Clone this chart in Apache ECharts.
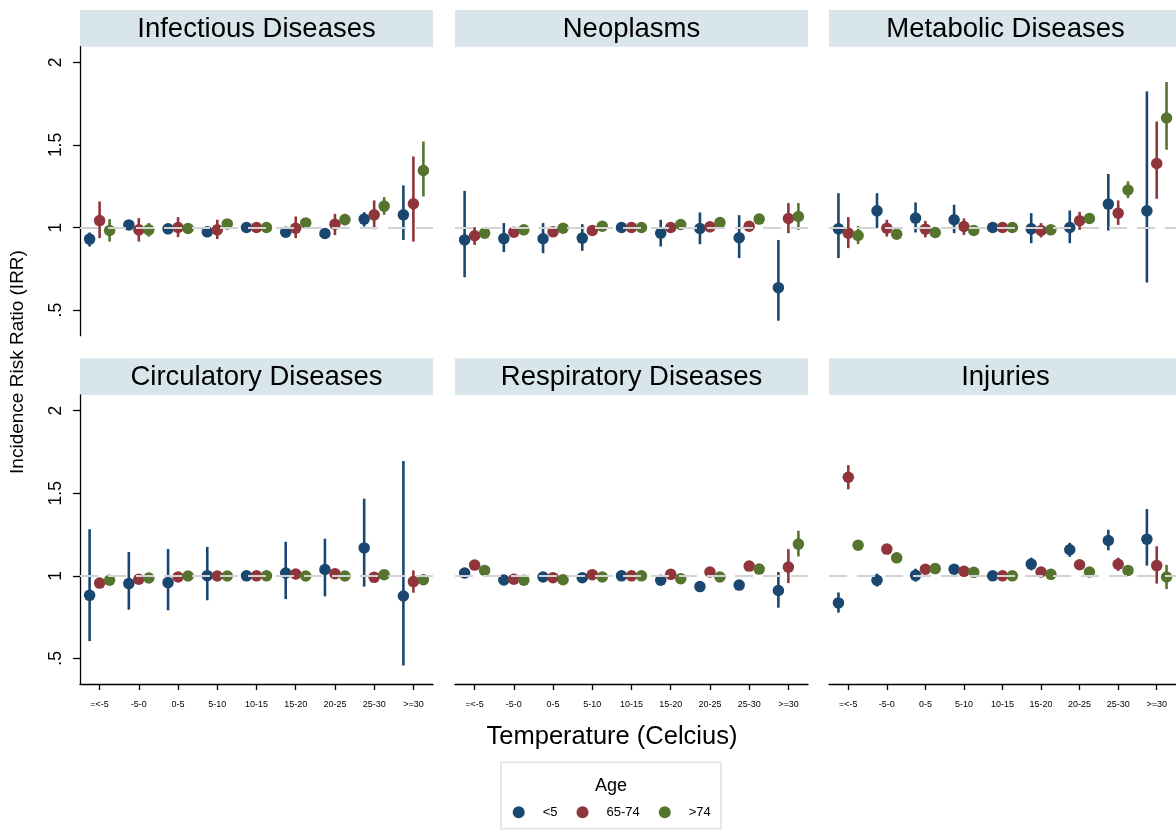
<!DOCTYPE html>
<html><head><meta charset="utf-8">
<script src="https://cdn.jsdelivr.net/npm/echarts@6/dist/echarts.min.js"></script>
<style>html,body{margin:0;padding:0;background:#fff}#c{width:1176px;height:830px}</style>
</head><body><div id="c"></div>
<script>
// ---------------- DATA ----------------
const categories = ['=<-5', '-5-0', '0-5', '5-10', '10-15', '15-20', '20-25', '25-30', '>=30'];
const panelTitles = ['Infectious Diseases', 'Neoplasms', 'Metabolic Diseases',
                     'Circulatory Diseases', 'Respiratory Diseases', 'Injuries'];
const ageGroups = ['<5', '65-74', '>74'];
const yTickValues = [0.5, 1, 1.5, 2];
const yTickLabels = ['.5', '1', '1.5', '2'];

// Infectious Diseases
const inf_lt5_est = [0.930, 1.016, 0.992, 0.974, 1.0, 0.972, 0.964, 1.051, 1.077];
const inf_lt5_lo  = [0.885, 0.995, 0.975, 0.960, 1.0, 0.955, 0.950, 1.006, 0.925];
const inf_lt5_hi  = [0.970, 1.035, 1.010, 0.990, 1.0, 0.990, 0.980, 1.093, 1.255];
const inf_65_est  = [1.042, 0.986, 1.000, 0.986, 1.0, 0.996, 1.020, 1.077, 1.144];
const inf_65_lo   = [0.936, 0.915, 0.942, 0.930, 1.0, 0.936, 0.954, 0.990, 0.915];
const inf_65_hi   = [1.158, 1.057, 1.063, 1.047, 1.0, 1.067, 1.083, 1.164, 1.430];
const inf_74_est  = [0.982, 0.986, 0.994, 1.022, 1.0, 1.028, 1.048, 1.130, 1.345];
const inf_74_lo   = [0.915, 0.945, 0.965, 0.995, 1.0, 0.998, 1.013, 1.077, 1.188];
const inf_74_hi   = [1.051, 1.027, 1.025, 1.047, 1.0, 1.058, 1.083, 1.184, 1.521];

// Neoplasms
const neo_lt5_est = [0.925, 0.933, 0.932, 0.936, 1.0, 0.966, 0.994, 0.938, 0.636];
const neo_lt5_lo  = [0.699, 0.851, 0.845, 0.859, 1.0, 0.885, 0.899, 0.815, 0.436];
const neo_lt5_hi  = [1.222, 1.027, 1.027, 1.020, 1.0, 1.047, 1.091, 1.075, 0.925];
const neo_65_est  = [0.950, 0.972, 0.974, 0.982, 1.0, 1.000, 1.004, 1.008, 1.055];
const neo_65_lo   = [0.895, 0.955, 0.958, 0.968, 1.0, 0.985, 0.990, 0.990, 0.966];
const neo_65_hi   = [1.002, 0.990, 0.990, 0.997, 1.0, 1.016, 1.020, 1.026, 1.148];
const neo_74_est  = [0.966, 0.986, 0.996, 1.008, 1.0, 1.018, 1.030, 1.051, 1.067];
const neo_74_lo   = [0.935, 0.975, 0.985, 0.998, 1.0, 1.008, 1.020, 1.040, 0.986];
const neo_74_hi   = [0.997, 0.997, 1.007, 1.018, 1.0, 1.028, 1.040, 1.062, 1.148];

// Metabolic Diseases
const met_lt5_est = [0.992, 1.101, 1.057, 1.047, 1.0, 0.992, 1.000, 1.142, 1.101];
const met_lt5_lo  = [0.815, 0.996, 0.970, 0.966, 1.0, 0.905, 0.905, 0.982, 0.667];
const met_lt5_hi  = [1.208, 1.208, 1.152, 1.138, 1.0, 1.087, 1.103, 1.324, 1.824];
const met_65_est  = [0.966, 0.996, 0.990, 1.006, 1.0, 0.982, 1.041, 1.087, 1.388];
const met_65_lo   = [0.875, 0.945, 0.940, 0.955, 1.0, 0.940, 0.986, 1.016, 1.174];
const met_65_hi   = [1.063, 1.047, 1.040, 1.055, 1.0, 1.027, 1.095, 1.164, 1.642];
const met_74_est  = [0.952, 0.960, 0.970, 0.982, 1.0, 0.986, 1.055, 1.227, 1.663];
const met_74_lo   = [0.900, 0.945, 0.955, 0.970, 1.0, 0.972, 1.040, 1.178, 1.471];
const met_74_hi   = [1.010, 0.975, 0.985, 0.994, 1.0, 1.000, 1.070, 1.279, 1.881];

// Circulatory Diseases
const cir_lt5_est = [0.882, 0.953, 0.959, 1.001, 1.0, 1.017, 1.038, 1.169, 0.878];
const cir_lt5_lo  = [0.605, 0.795, 0.791, 0.852, 1.0, 0.859, 0.876, 0.935, 0.457];
const cir_lt5_hi  = [1.282, 1.144, 1.162, 1.175, 1.0, 1.206, 1.225, 1.467, 1.695];
const cir_65_est  = [0.956, 0.979, 0.993, 0.999, 1.0, 1.011, 1.013, 0.991, 0.965];
const cir_65_lo   = [0.945, 0.970, 0.985, 0.990, 1.0, 1.002, 1.004, 0.980, 0.898];
const cir_65_hi   = [0.967, 0.988, 1.001, 1.008, 1.0, 1.020, 1.022, 1.002, 1.033];
const cir_74_est  = [0.973, 0.987, 0.999, 0.999, 1.0, 0.999, 0.999, 1.007, 0.977];
const cir_74_lo   = [0.965, 0.980, 0.992, 0.992, 1.0, 0.992, 0.992, 0.998, 0.945];
const cir_74_hi   = [0.981, 0.994, 1.006, 1.006, 1.0, 1.006, 1.006, 1.016, 1.010];

// Respiratory Diseases
const res_lt5_est = [1.017, 0.975, 0.993, 0.989, 1.0, 0.973, 0.935, 0.944, 0.911];
const res_lt5_lo  = [1.000, 0.965, 0.985, 0.980, 1.0, 0.963, 0.925, 0.933, 0.807];
const res_lt5_hi  = [1.035, 0.985, 1.001, 0.998, 1.0, 0.983, 0.945, 0.955, 1.023];
const res_65_est  = [1.065, 0.979, 0.989, 1.007, 1.0, 1.009, 1.023, 1.059, 1.053];
const res_65_lo   = [1.055, 0.972, 0.982, 1.000, 1.0, 1.002, 1.015, 1.050, 0.956];
const res_65_hi   = [1.075, 0.986, 0.996, 1.014, 1.0, 1.016, 1.031, 1.068, 1.162];
const res_74_est  = [1.033, 0.973, 0.977, 0.993, 1.0, 0.983, 0.993, 1.041, 1.192];
const res_74_lo   = [1.025, 0.966, 0.970, 0.986, 1.0, 0.976, 0.986, 1.033, 1.117];
const res_74_hi   = [1.041, 0.980, 0.984, 1.000, 1.0, 0.990, 1.000, 1.049, 1.273];

// Injuries
const inj_lt5_est = [0.836, 0.973, 1.003, 1.040, 1.0, 1.071, 1.158, 1.214, 1.222];
const inj_lt5_lo  = [0.777, 0.935, 0.965, 1.010, 1.0, 1.033, 1.115, 1.154, 1.062];
const inj_lt5_hi  = [0.899, 1.013, 1.043, 1.070, 1.0, 1.110, 1.200, 1.279, 1.404];
const inj_65_est  = [1.597, 1.162, 1.040, 1.027, 1.0, 1.023, 1.067, 1.070, 1.062];
const inj_65_lo   = [1.524, 1.132, 1.030, 1.017, 1.0, 1.013, 1.057, 1.030, 0.953];
const inj_65_hi   = [1.670, 1.192, 1.050, 1.037, 1.0, 1.033, 1.077, 1.110, 1.179];
const inj_74_est  = [1.185, 1.109, 1.044, 1.021, 1.0, 1.009, 1.023, 1.033, 0.993];
const inj_74_lo   = [1.175, 1.099, 1.036, 1.013, 1.0, 1.001, 1.015, 1.023, 0.920];
const inj_74_hi   = [1.195, 1.119, 1.052, 1.029, 1.0, 1.017, 1.031, 1.043, 1.066];

// ---------------- BUILD ----------------
const panels = [
  [[inf_lt5_est, inf_lt5_lo, inf_lt5_hi], [inf_65_est, inf_65_lo, inf_65_hi], [inf_74_est, inf_74_lo, inf_74_hi]],
  [[neo_lt5_est, neo_lt5_lo, neo_lt5_hi], [neo_65_est, neo_65_lo, neo_65_hi], [neo_74_est, neo_74_lo, neo_74_hi]],
  [[met_lt5_est, met_lt5_lo, met_lt5_hi], [met_65_est, met_65_lo, met_65_hi], [met_74_est, met_74_lo, met_74_hi]],
  [[cir_lt5_est, cir_lt5_lo, cir_lt5_hi], [cir_65_est, cir_65_lo, cir_65_hi], [cir_74_est, cir_74_lo, cir_74_hi]],
  [[res_lt5_est, res_lt5_lo, res_lt5_hi], [res_65_est, res_65_lo, res_65_hi], [res_74_est, res_74_lo, res_74_hi]],
  [[inj_lt5_est, inj_lt5_lo, inj_lt5_hi], [inj_65_est, inj_65_lo, inj_65_hi], [inj_74_est, inj_74_lo, inj_74_hi]]
];

const FONT = '"Liberation Sans", Arial, Helvetica, sans-serif';
const colors = ['#1a476f', '#90353b', '#55752f'];
const offsets = [-0.255, 0, 0.255];
const colLeft = [80, 455, 829];
const rowTop = [46.7, 395];
const stripTop = [10, 358.3];
const W = 353, H = 289, STRIP_H = 36.7;
const catPositions = categories.map((c, i) => i + 1);

const grid = [], xAxis = [], yAxis = [], series = [], graphic = [];

panels.forEach((groups, k) => {
  const col = k % 3, row = Math.floor(k / 3);
  grid.push({ left: colLeft[col], top: rowTop[row], width: W, height: H });
  xAxis.push({
    type: 'value', gridIndex: k, min: 0.5, max: 9.5, show: row === 1,
    axisLine: { show: true, onZero: false, lineStyle: { color: '#000', width: 1.3 } },
    axisTick: { show: true, customValues: catPositions, length: 6, lineStyle: { color: '#000', width: 1.3 } },
    axisLabel: { customValues: catPositions, formatter: v => categories[Math.round(v) - 1],
                 fontSize: 9, color: '#000', margin: 16, fontFamily: FONT },
    splitLine: { show: false }
  });
  yAxis.push({
    type: 'value', gridIndex: k, min: 0.345, max: 2.095, show: col === 0,
    axisLine: { show: true, onZero: false, lineStyle: { color: '#000', width: 1.3 } },
    axisTick: { show: true, customValues: yTickValues, length: 7, lineStyle: { color: '#000', width: 1.3 } },
    axisLabel: { customValues: yTickValues,
                 formatter: v => yTickLabels[yTickValues.findIndex(t => Math.abs(t - v) < 1e-6)],
                 rotate: 90, fontSize: 17.5, color: '#000', margin: 15, fontFamily: FONT },
    splitLine: { show: false }
  });
  // reference line at 1
  series.push({
    type: 'line', xAxisIndex: k, yAxisIndex: k, data: [], silent: true, z: 1,
    markLine: { silent: true, symbol: 'none', animation: false, label: { show: false },
                lineStyle: { color: '#d3d3d3', width: 2, type: [18, 10] },
                data: [{ yAxis: 1 }] }
  });
  groups.forEach((g, j) => {
    const [est, lo, hi] = g;
    const off = offsets[j], color = colors[j];
    series.push({
      type: 'custom', xAxisIndex: k, yAxisIndex: k, z: 2, silent: true,
      data: est.map((e, i) => [catPositions[i], lo[i], hi[i]]),
      encode: { x: 0, y: [1, 2] },
      renderItem: (params, api) => {
        const x = api.value(0) + off;
        const a = api.coord([x, api.value(1)]);
        const b = api.coord([x, api.value(2)]);
        return { type: 'line', shape: { x1: a[0], y1: a[1], x2: b[0], y2: b[1] },
                 style: { stroke: color, lineWidth: 2.6 } };
      }
    });
    series.push({
      type: 'scatter', name: ageGroups[j], xAxisIndex: k, yAxisIndex: k, z: 3,
      symbol: 'circle', symbolSize: 11.5, itemStyle: { color: color, opacity: 1 },
      data: est.map((e, i) => [catPositions[i] + off, e])
    });
  });
  // header strip
  graphic.push({ type: 'rect', silent: true, z: 0,
    shape: { x: colLeft[col], y: stripTop[row], width: W, height: STRIP_H },
    style: { fill: '#d8e5eb' } });
  graphic.push({ type: 'text', silent: true, z: 1,
    x: colLeft[col] + W / 2, y: stripTop[row] + STRIP_H / 2 + 1,
    style: { text: panelTitles[k], fill: '#000', font: '27.5px ' + FONT,
             textAlign: 'center', textVerticalAlign: 'middle' } });
});

// axis titles
graphic.push({ type: 'text', silent: true, x: 18, y: 362, rotation: Math.PI / 2,
  style: { text: 'Incidence Risk Ratio (IRR)', fill: '#000', font: '19px ' + FONT,
           textAlign: 'center', textVerticalAlign: 'middle' } });
graphic.push({ type: 'text', silent: true, x: 612, y: 737,
  style: { text: 'Temperature (Celcius)', fill: '#000', font: '25.5px ' + FONT,
           textAlign: 'center', textVerticalAlign: 'middle' } });
// legend box and title
graphic.push({ type: 'rect', silent: true,
  shape: { x: 501, y: 762.3, width: 220, height: 66.5 },
  style: { fill: '#fff', stroke: '#e2eaef', lineWidth: 2 } });
graphic.push({ type: 'text', silent: true, x: 611, y: 786,
  style: { text: 'Age', fill: '#000', font: '18px ' + FONT,
           textAlign: 'center', textVerticalAlign: 'middle' } });

const chart = echarts.init(document.getElementById('c'), null, { renderer: 'canvas' });
chart.setOption({
  animation: false,
  backgroundColor: '#fff',
  grid, xAxis, yAxis, series, graphic,
  legend: {
    data: ageGroups.map(n => ({ name: n, icon: 'circle' })),
    left: 512.7, top: 805.7, padding: 0, itemWidth: 12, itemHeight: 12, itemGap: 19,
    selectedMode: false, z: 10,
    textStyle: { fontSize: 13, color: '#000', fontFamily: FONT, padding: [0, 0, 0, 13] }
  }
});
</script></body></html>
